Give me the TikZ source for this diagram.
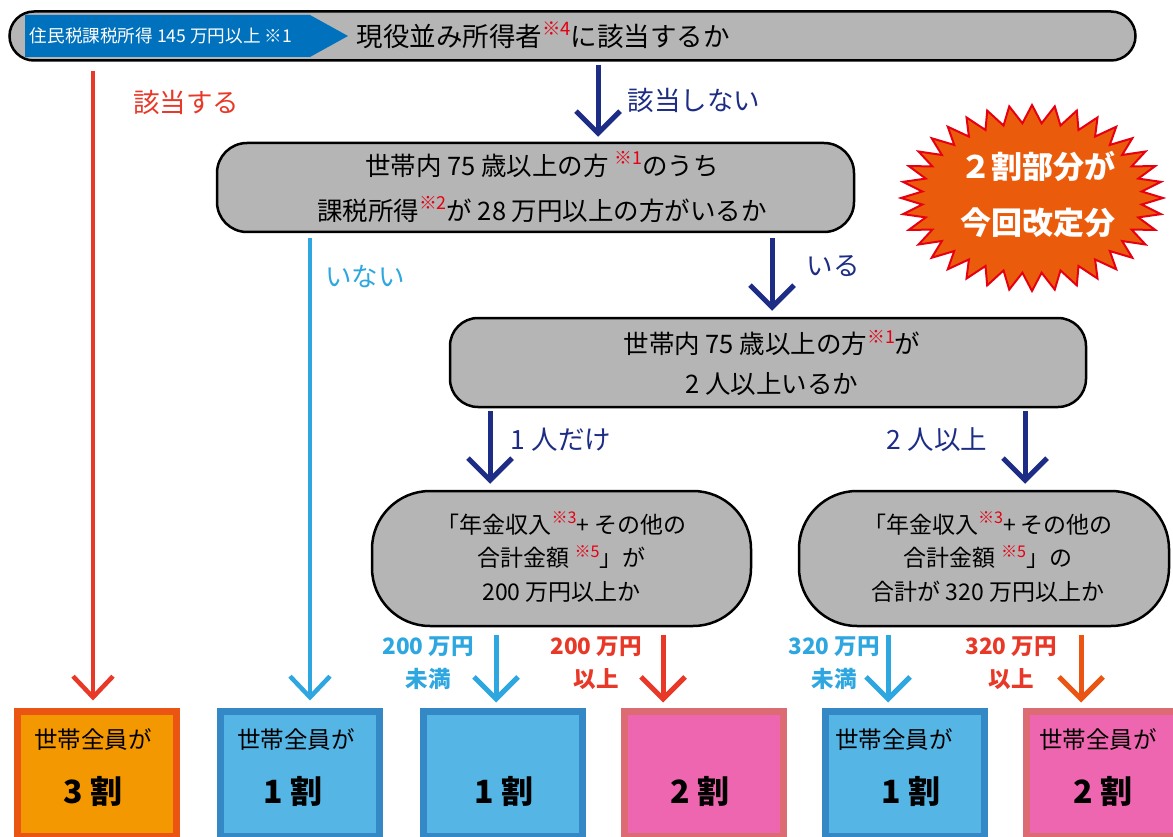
\documentclass[tikz,border=0pt]{standalone}
\usepackage{fontspec}
\usepackage{graphicx}
\setmainfont{Noto Sans CJK JP}
\usetikzlibrary{arrows.meta,calc}
\definecolor{gfill}{RGB}{181,181,182}
\definecolor{topblue}{RGB}{0,113,188}
\definecolor{nred}{RGB}{232,56,40}
\definecolor{sred}{RGB}{230,0,18}
\definecolor{navy}{RGB}{29,45,133}
\definecolor{lblue}{RGB}{46,167,224}
\definecolor{burstfill}{RGB}{234,92,12}
\definecolor{burstline}{RGB}{230,0,18}
\definecolor{ofill}{RGB}{243,152,0}
\definecolor{oline}{RGB}{234,85,20}
\definecolor{bfill}{RGB}{85,181,229}
\definecolor{bline}{RGB}{53,136,198}
\definecolor{pfill}{RGB}{238,102,175}
\definecolor{pline}{RGB}{220,107,116}
\newcommand\nm[1]{\raisebox{0.42em}{\textcolor{sred}{\scalebox{0.7}{※#1}}}}
\begin{document}
\begin{tikzpicture}[x=1pt,y=-1pt,
  graybox/.style={draw=black, fill=gfill, line width=2.5pt},
  arr/.style={line width=5pt, -{Straight Barb[length=22pt,width=44pt]}},
  longarr/.style={line width=4.5pt, -{Straight Barb[length=21pt,width=40pt]}},
  lbl/.style={font=\fontsize{26.5}{30}\selectfont},
  amt/.style={font=\bfseries\fontsize{22.5}{33}\selectfont, align=center},
  resbox/.style={line width=7pt, minimum width=159pt, minimum height=125pt, anchor=north west},
  obox/.style={resbox, draw=oline, fill=ofill},
  bbox/.style={resbox, draw=bline, fill=bfill},
  pbox/.style={resbox, draw=pline, fill=pfill},
  who/.style={font=\fontsize{23.5}{26}\selectfont},
  rate/.style={font=\bfseries\fontsize{32}{36}\selectfont},
]
\useasboundingbox (0,0) rectangle (1173,837);

% top bar
\node (top) [graybox, rounded corners=24.5pt, minimum width=1126pt, minimum height=49pt] at (572.5,36) {};
\path[fill=topblue] (25,15) -- (310,15) -- (348,36) -- (310,57) -- (25,57) -- cycle;
\node (toplbl) [text=white, font=\fontsize{17.6}{20}\selectfont] at (161,36) {住民税課税所得 145 万円以上 ※1};
\node (toptxt) [anchor=west, font=\fontsize{26.5}{30}\selectfont] at (353,35) {現役並み所得者\nm{4}に該当するか};

% box 2
\node (q2) [graybox, rounded corners=30pt, minimum width=637pt, minimum height=89pt] at (535.5,187.5) {};
\node (q2txt) [align=center, font=\fontsize{25.5}{45}\selectfont] at (542,187) {世帯内 75 歳以上の方 \nm{1}のうち\\課税所得\nm{2}が 28 万円以上の方がいるか};

% box 3
\node (q3) [graybox, rounded corners=28pt, minimum width=636pt, minimum height=89pt] at (768,362.5) {};
\node (q3txt) [align=center, font=\fontsize{25.5}{40}\selectfont] at (772,363) {世帯内 75 歳以上の方\nm{1}が\\2 人以上いるか};

% boxes 4 and 5
\node (q4) [graybox, rounded corners=58pt, minimum width=379pt, minimum height=135pt] at (561.5,558.5) {};
\node (q4txt) [align=center, font=\fontsize{23}{33.5}\selectfont] at (561.5,557) {「年金収入\nm{3}+ その他の\\合計金額 \nm{5}」が\\200 万円以上か};
\node (q5) [graybox, rounded corners=58pt, minimum width=370pt, minimum height=135pt] at (984,558.5) {};
\node (q5txt) [align=center, font=\fontsize{23}{33.5}\selectfont] at (988,557) {「年金収入\nm{3}+ その他の\\合計金額 \nm{5}」の\\合計が 320 万円以上か};

% starburst
\path[fill=burstfill, draw=burstline, line width=2pt] (1032+131,198)
  \foreach \i in {1,...,71}{ -- ({1032+(isodd(\i)?110:131)*cos(\i*5)}, {198+(isodd(\i)?75:93)*sin(\i*5)}) } -- cycle;
\node (burst) [text=white, align=center, font=\bfseries\fontsize{31}{56}\selectfont] at (1038,195) {２割部分が\\今回改定分};

% result boxes
\node (bA) [obox] at (13.5,707.5) {};
\node (bB) [bbox] at (216.5,707.5) {};
\node (bC) [bbox] at (419.5,707.5) {};
\node (bD) [pbox] at (620.5,707.5) {};
\node (bE) [bbox] at (821.5,707.5) {};
\node (bF) [pbox] at (1022.5,707.5) {};

\node (tA1) [who] at (93,740) {世帯全員が};
\node (tA2) [rate] at (93,791) {3 割};
\node (tB1) [who] at (296,740) {世帯全員が};
\node (tB2) [rate] at (293,791) {1 割};
\node (tC2) [rate] at (504,791) {1 割};
\node (tD2) [rate] at (700,791) {2 割};
\node (tE1) [who] at (894,740) {世帯全員が};
\node (tE2) [rate] at (911,791) {1 割};
\node (tF1) [who] at (1098,740) {世帯全員が};
\node (tF2) [rate] at (1103,791) {2 割};

% connectors
\draw[longarr, nred, shorten <=9pt, shorten >=7pt] (top.south -| 93,0) -- (bA.north -| 93,0);
\draw[arr, navy, shorten <=3pt, shorten >=5pt] (top.south -| 598,0) -- (q2.north -| 598,0);
\draw[longarr, lblue, shorten <=5pt, shorten >=7pt] (q2.south -| 310,0) -- (bB.north -| 310,0);
\draw[arr, navy, shorten <=5pt, shorten >=6pt] (q2.south -| 772,0) -- (q3.north -| 772,0);
\draw[arr, navy, shorten <=3pt, shorten >=6pt] (q3.south -| 490,0) -- (q4.north -| 490,0);
\draw[arr, navy, shorten <=3pt, shorten >=6pt] (q3.south -| 1025,0) -- (q5.north -| 1025,0);
\draw[arr, lblue, shorten <=8pt, shorten >=5pt] (q4.south -| 496,0) -- (bC.north -| 496,0);
\draw[arr, nred, shorten <=8pt, shorten >=5pt] (q4.south -| 663,0) -- (bD.north -| 663,0);
\draw[arr, lblue, shorten <=8pt, shorten >=5pt] (q5.south -| 888,0) -- (bE.north -| 888,0);
\draw[arr, oline, shorten <=8pt, shorten >=5pt] (q5.south -| 1081,0) -- (bF.north -| 1081,0);

% labels
\node (l1) [lbl, text=nred] at (186,102) {該当する};
\node (l2) [lbl, text=navy] at (694,100) {該当しない};
\node (l3) [lbl, text=lblue] at (365,277) {いない};
\node (l4) [lbl, text=navy] at (833,266) {いる};
\node (l5) [lbl, text=navy] at (561,440) {1 人だけ};
\node (l6) [lbl, text=navy] at (937,440) {2 人以上};
\node (l7) [amt, text=lblue] at (428,663) {200 万円\\未満};
\node (l8) [amt, text=nred] at (596,663) {200 万円\\以上};
\node (l9) [amt, text=lblue] at (834,663) {320 万円\\未満};
\node (l10) [amt, text=nred] at (1011,663) {320 万円\\以上};
\end{tikzpicture}
\end{document}
